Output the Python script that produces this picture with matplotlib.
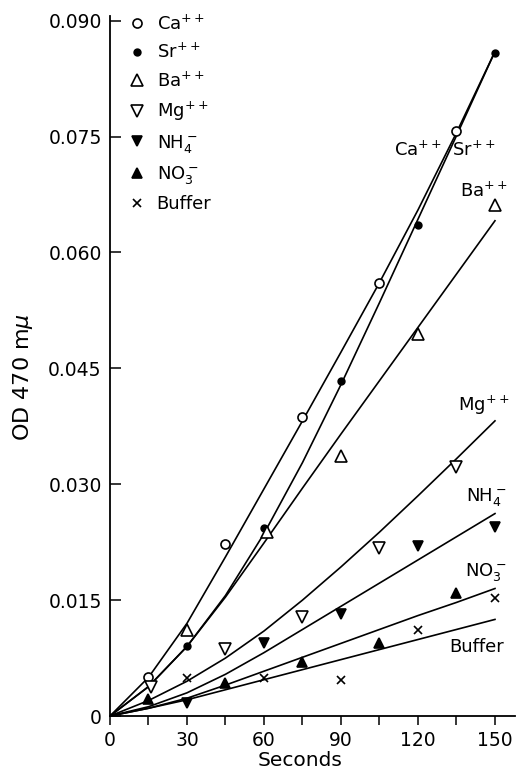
import matplotlib.pyplot as plt

plt.rcParams['font.family'] = ['DejaVu Sans']
plt.rcParams['mathtext.fontset'] = 'dejavusans'

# measured points (seconds, OD 470 m-mu)
ca_t = [15, 45, 75, 105, 135]
ca_v = [0.0050, 0.0222, 0.0387, 0.0560, 0.0757]
sr_t = [30, 60, 90, 120, 150]
sr_v = [0.0091, 0.0243, 0.0434, 0.0635, 0.0858]
ba_t = [30, 61, 90, 120, 150]
ba_v = [0.0111, 0.0238, 0.0337, 0.0495, 0.0661]
mg_t = [16, 45, 75, 105, 135]
mg_v = [0.0037, 0.0087, 0.0128, 0.0217, 0.0322]
nh4_t = [30, 60, 90, 120, 150]
nh4_v = [0.0017, 0.0094, 0.0132, 0.0220, 0.0245]
no3_t = [15, 45, 75, 105, 135]
no3_v = [0.0022, 0.0043, 0.0070, 0.0095, 0.0159]
buf_t = [30, 60, 90, 120, 150]
buf_v = [0.0049, 0.0049, 0.0047, 0.0111, 0.0153]

# fitted curves
fit_t = [0, 15, 30, 45, 60, 75, 90, 105, 120, 135, 150]
ca_fit = [0, 0.0050, 0.0120, 0.0206, 0.0294, 0.0382, 0.0471, 0.0561, 0.0655, 0.0755, 0.0860]
sr_fit = [0, 0.0038, 0.0090, 0.0156, 0.0236, 0.0328, 0.0429, 0.0535, 0.0643, 0.0751, 0.0860]
ba_fit = [0, 0.0038, 0.0090, 0.0154, 0.0224, 0.0295, 0.0365, 0.0434, 0.0503, 0.0572, 0.0641]
mg_fit = [0, 0.0020, 0.0045, 0.0075, 0.0110, 0.0150, 0.0193, 0.0238, 0.0285, 0.0333, 0.0382]
nh4_fit = [0, 0.0012, 0.0030, 0.0054, 0.0082, 0.0112, 0.0142, 0.0172, 0.0202, 0.0232, 0.0262]
no3_fit = [0, 0.0010, 0.0023, 0.0040, 0.0058, 0.0076, 0.0094, 0.0112, 0.0130, 0.0147, 0.0165]
buf_fit = [0, 0.0010, 0.0021, 0.0034, 0.0047, 0.0060, 0.0073, 0.0086, 0.0099, 0.0112, 0.0125]

fig = plt.figure(figsize=(5.16, 7.72), dpi=100)
ax = fig.add_axes([110 / 516, 56 / 772, 405 / 516, 700 / 772])

for f in [ca_fit, sr_fit, ba_fit, mg_fit, nh4_fit, no3_fit, buf_fit]:
    ax.plot(fit_t, f, color='black', lw=1.2, zorder=2, solid_joinstyle='round')

series = [
    (ca_t, ca_v, 'o', 'white', 6.5, 'Ca$^{++}$'),
    (sr_t, sr_v, 'o', 'black', 4.8, 'Sr$^{++}$'),
    (ba_t, ba_v, '^', 'white', 8, 'Ba$^{++}$'),
    (mg_t, mg_v, 'v', 'white', 8, 'Mg$^{++}$'),
    (nh4_t, nh4_v, 'v', 'black', 7, 'NH$_4^-$'),
    (no3_t, no3_v, '^', 'black', 7, 'NO$_3^-$'),
    (buf_t, buf_v, 'x', 'black', 5.5, 'Buffer'),
]
for t, v, m, fc, ms, lab in series:
    ax.plot(t, v, ls='none', marker=m, mfc=fc, mec='black', mew=1.2,
            ms=ms, label=lab, zorder=3)

# curve labels
ax.text(120, 0.0732, 'Ca$^{++}$', fontsize=13, ha='center', va='center')
ax.text(141.5, 0.0732, 'Sr$^{++}$', fontsize=13, ha='center', va='center')
ax.text(145.5, 0.0680, 'Ba$^{++}$', fontsize=13, ha='center', va='center')
ax.text(145.5, 0.0402, 'Mg$^{++}$', fontsize=13, ha='center', va='center')
ax.text(146.5, 0.0283, 'NH$_4^-$', fontsize=13, ha='center', va='center')
ax.text(146.5, 0.0186, 'NO$_3^-$', fontsize=13, ha='center', va='center')
ax.text(143, 0.0089, 'Buffer', fontsize=13, ha='center', va='center')

ax.legend(loc='upper left', bbox_to_anchor=(0.044, 1.003), frameon=False,
          fontsize=13, handlelength=1.0, handletextpad=0.6,
          labelspacing=0.52, borderpad=0, borderaxespad=0)

ax.set_xlim(0, 157.8)
ax.set_ylim(0, 0.0906)
ax.spines['top'].set_visible(False)
ax.spines['right'].set_visible(False)
ax.spines['left'].set_linewidth(1.3)
ax.spines['bottom'].set_linewidth(1.3)

ax.set_xticks([0, 30, 60, 90, 120, 150])
ax.set_xticks([15, 45, 75, 105, 135], minor=True)
ax.tick_params(axis='x', which='both', direction='out', length=6.5, width=1.1,
               labelsize=13.5, pad=4)
yt = [0, 0.015, 0.030, 0.045, 0.060, 0.075, 0.090]
ax.set_yticks(yt)
ax.set_yticklabels(['0', '0.015', '0.030', '0.045', '0.060', '0.075', '0.090'])
ax.tick_params(axis='y', direction='in', length=8, width=1.1, labelsize=13.5, pad=6)

ax.set_xlabel('Seconds', fontsize=14.5)
ax.xaxis.set_label_coords(0.469, -0.05)
ax.set_ylabel(r'OD 470 m$\mu$', fontsize=16)
ax.yaxis.set_label_coords(-0.185, 0.484)

fig.savefig('out.png', dpi=100)
